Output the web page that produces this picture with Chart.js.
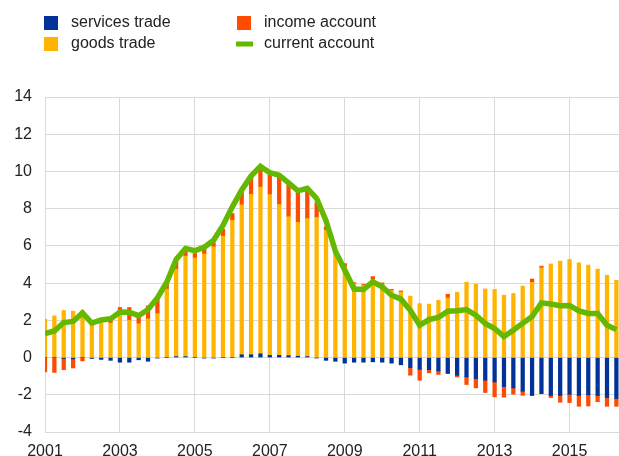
<!DOCTYPE html>
<html>
<head>
<meta charset="utf-8">
<title>Current account</title>
<script src="https://cdn.jsdelivr.net/npm/chart.js@4.4.1/dist/chart.umd.min.js"></script>
<style>
  html, body { margin: 0; padding: 0; background: #fff; }
</style>
</head>
<body>
<canvas id="caChart" width="619" height="456"></canvas>
<script>
// quarterly data, % of GDP
var quarters = [
    '2001Q1', '2001Q2', '2001Q3', '2001Q4', '2002Q1', '2002Q2', '2002Q3', '2002Q4',
    '2003Q1', '2003Q2', '2003Q3', '2003Q4', '2004Q1', '2004Q2', '2004Q3', '2004Q4',
    '2005Q1', '2005Q2', '2005Q3', '2005Q4', '2006Q1', '2006Q2', '2006Q3', '2006Q4',
    '2007Q1', '2007Q2', '2007Q3', '2007Q4', '2008Q1', '2008Q2', '2008Q3', '2008Q4',
    '2009Q1', '2009Q2', '2009Q3', '2009Q4', '2010Q1', '2010Q2', '2010Q3', '2010Q4',
    '2011Q1', '2011Q2', '2011Q3', '2011Q4', '2012Q1', '2012Q2', '2012Q3', '2012Q4',
    '2013Q1', '2013Q2', '2013Q3', '2013Q4', '2014Q1', '2014Q2', '2014Q3', '2014Q4',
    '2015Q1', '2015Q2', '2015Q3', '2015Q4', '2016Q1', '2016Q2'
];
var yearTicks = [2001, 2003, 2005, 2007, 2009, 2011, 2013, 2015];

var servicesTrade = [
    0, 0, -0.05, -0.07, 0, -0.05, -0.1, -0.15, -0.25, -0.25,
    -0.12, -0.2, -0.03, 0, 0.05, 0.05, 0, -0.03, -0.03, 0,
    0, 0.15, 0.15, 0.2, 0.12, 0.12, 0.1, 0.07, 0.05, -0.02,
    -0.15, -0.2, -0.3, -0.25, -0.25, -0.23, -0.25, -0.3, -0.39, -0.54,
    -0.63, -0.65, -0.72, -0.86, -0.95, -1.04, -1.13, -1.22, -1.31, -1.56,
    -1.63, -1.81, -2.04, -1.94, -2.04, -2.04, -1.97, -2.04, -2.0, -2.04,
    -2.15, -2.2
];
var goodsTrade = [
    2.06, 2.24, 2.53, 2.49, 2.52, 1.83, 2.03, 1.85, 2.37, 2.0,
    1.82, 2.08, 2.37, 3.68, 4.7, 5.4, 5.35, 5.57, 5.95, 6.52,
    7.38, 8.06, 8.62, 8.96, 8.64, 8.1, 7.47, 7.2, 7.42, 7.53,
    6.85, 5.6, 4.87, 3.98, 3.89, 4.2, 3.94, 3.62, 3.52, 3.3,
    2.9, 2.87, 3.08, 3.2, 3.51, 4.05, 3.94, 3.69, 3.66, 3.35,
    3.44, 3.84, 4.04, 4.82, 5.03, 5.18, 5.27, 5.09, 4.97, 4.75,
    4.42, 4.15
];
var incomeAccount = [
    -0.77, -0.8, -0.6, -0.49, -0.18, 0.05, 0.05, 0.3, 0.32, 0.69,
    0.55, 0.7, 0.75, 0.36, 0.45, 0.25, 0.24, 0.25, 0.21, 0.38,
    0.36, 0.79, 0.95, 1.14, 1.16, 1.52, 1.71, 1.62, 1.58, 0.79,
    0.18, 0.1, 0.18, 0.05, 0.05, 0.15, 0.07, 0.05, 0.06, -0.41,
    -0.59, -0.17, -0.19, 0.2, -0.09, -0.41, -0.5, -0.66, -0.8, -0.57,
    -0.34, -0.22, 0.18, 0.09, -0.11, -0.36, -0.45, -0.58, -0.6, -0.33,
    -0.47, -0.42
];
var currentAccount = [
    1.29, 1.43, 1.88, 1.94, 2.4, 1.85, 2.02, 2.08, 2.45, 2.44,
    2.25, 2.58, 3.2, 4.05, 5.27, 5.86, 5.74, 5.93, 6.3, 7.1,
    8.1, 9.0, 9.75, 10.27, 9.93, 9.8, 9.39, 8.96, 9.09, 8.55,
    7.35, 5.72, 4.7, 3.68, 3.66, 4.07, 3.8, 3.35, 3.14, 2.54,
    1.74, 2.04, 2.15, 2.49, 2.51, 2.58, 2.28, 1.83, 1.56, 1.13,
    1.47, 1.85, 2.2, 2.94, 2.88, 2.78, 2.8, 2.51, 2.37, 2.37,
    1.74, 1.5
];

// '2003Q2' -> 2003.25 so the x axis can be linear with gridlines on the years
function quarterPos(q) {
    return parseInt(q.slice(0, 4), 10) + (parseInt(q.slice(5), 10) - 1) / 4;
}
function toPoints(values) {
    return values.map(function(v, i) {
        return { x: quarterPos(quarters[i]), y: v };
    });
}

// legend in two columns, like the original
var twoColumnLegend = {
    id: 'twoColumnLegend',
    afterDraw: function(chart) {
        var ctx = chart.ctx;
        var slots = [
            { ds: 0, x: 44, y: 16 },
            { ds: 1, x: 44, y: 37 },
            { ds: 2, x: 237, y: 16 },
            { ds: 3, x: 237, y: 37 }
        ];
        ctx.save();
        ctx.font = '16px "Liberation Sans", Arial, sans-serif';
        ctx.textBaseline = 'middle';
        ctx.textAlign = 'left';
        slots.forEach(function(s) {
            var ds = chart.data.datasets[s.ds];
            if (ds.type === 'line') {
                ctx.strokeStyle = ds.borderColor;
                ctx.lineWidth = 5;
                ctx.beginPath();
                ctx.moveTo(s.x - 1, s.y + 7);
                ctx.lineTo(s.x + 16, s.y + 7);
                ctx.stroke();
            } else {
                ctx.fillStyle = ds.backgroundColor;
                ctx.fillRect(s.x, s.y, 14, 14);
            }
            ctx.fillStyle = '#222';
            ctx.fillText(ds.label, s.x + 27, s.y + 7);
        });
        ctx.restore();
    }
};

document.addEventListener("DOMContentLoaded", function() {
    Chart.defaults.font.family = '"Liberation Sans", Arial, sans-serif';
    Chart.defaults.font.size = 16;
    Chart.defaults.color = '#222';

    var ctx = document.getElementById('caChart').getContext('2d');

    var caChart = new Chart(ctx, {
        type: 'bar',
        data: {
            datasets: [{
                label: 'services trade',
                data: toPoints(servicesTrade),
                backgroundColor: '#003299',
                barThickness: 3.6,
                order: 1
            }, {
                label: 'goods trade',
                data: toPoints(goodsTrade),
                backgroundColor: '#ffb400',
                barThickness: 3.6,
                order: 1
            }, {
                label: 'income account',
                data: toPoints(incomeAccount),
                backgroundColor: '#ff4b00',
                barThickness: 3.6,
                order: 1
            }, {
                type: 'line',
                label: 'current account',
                data: toPoints(currentAccount),
                borderColor: '#65b800',
                backgroundColor: '#65b800',
                borderWidth: 5.5,
                pointRadius: 0,
                tension: 0,
                fill: false,
                stack: 'ca',
                order: 0
            }]
        },
        plugins: [twoColumnLegend],
        options: {
            responsive: false,
            animation: false,
            layout: { padding: { top: 97, left: 0, right: 0, bottom: 0 } },
            plugins: {
                legend: { display: false },
                tooltip: { enabled: false }
            },
            scales: {
                x: {
                    type: 'linear',
                    stacked: true,
                    offset: false,
                    min: 2001,
                    max: 2016.32,
                    afterBuildTicks: function(scale) {
                        scale.ticks = yearTicks.map(function(y) { return { value: y }; });
                    },
                    afterFit: function(scale) { scale.height = 24; },
                    ticks: {
                        padding: 10,
                        maxRotation: 0,
                        autoSkip: false,
                        callback: function(value) { return String(value); }
                    },
                    grid: { color: '#d9d9d9', drawTicks: false, offset: false },
                    border: { display: false }
                },
                y: {
                    stacked: true,
                    min: -4,
                    max: 14,
                    afterFit: function(scale) { scale.width = 45; },
                    ticks: { stepSize: 2, padding: 13 },
                    grid: { color: '#d9d9d9', drawTicks: false },
                    border: { display: false }
                }
            }
        }
    });
});
</script>
</body>
</html>
